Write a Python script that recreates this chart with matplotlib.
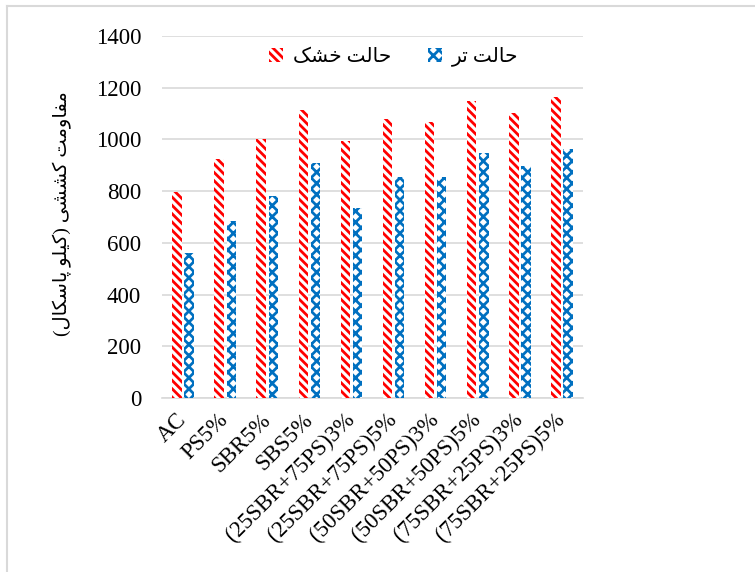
import numpy as np
import matplotlib
matplotlib.use('Agg')
import matplotlib.pyplot as plt
from matplotlib.lines import Line2D

# data
categories = ['AC', 'PS5%', 'SBR5%', 'SBS5%', '(25SBR+75PS)3%', '(25SBR+75PS)5%',
              '(50SBR+50PS)3%', '(50SBR+50PS)5%', '(75SBR+25PS)3%', '(75SBR+25PS)5%']
dry = [796, 925, 1001, 1115, 994, 1080, 1067, 1150, 1104, 1164]
wet = [562, 684, 781, 910, 735, 853, 853, 947, 897, 963]
yticks = [0, 200, 400, 600, 800, 1000, 1200, 1400]

# persian text, written in visual order with presentation forms (no shaping in mpl)
dry_label = '\uFB8F\uFEB8\uFEA7 \uFE96\uFEDF\uFE8E\uFEA3'   # حالت خشک
wet_label = '\uFEAE\uFE97 \uFE96\uFEDF\uFE8E\uFEA3'         # حالت تر
y_label = ('(\uFEDD\uFE8E\uFB91\uFEB3\uFE8E\uFB58 \uFEEE\uFEE0\uFBFF\uFB90) '
           '\uFBFD\uFEB8\uFEB8\uFB90 \uFE96\uFEE3\uFEED\uFE8E\uFED4\uFEE3')  # مقاومت کششی (کیلو پاسکال)

plt.rcParams['font.family'] = ['Liberation Serif', 'DejaVu Sans']
plt.rcParams['hatch.linewidth'] = 2.0

red = '#FF0000'
blue = '#0070C0'

fig = plt.figure(figsize=(7.55, 5.72), dpi=100)
ax = fig.add_axes([0.2146, 0.3042, 0.5576, 0.6328])

x = np.arange(len(categories))
w = 0.225
gap = 0.064
ax.bar(x - (w + gap) / 2, dry, width=w, facecolor='white', edgecolor=red,
       hatch='\\\\\\\\', linewidth=0, label=dry_label, zorder=3)
ax.bar(x + (w + gap) / 2, wet, width=w, facecolor='white', edgecolor=blue,
       hatch='xxx', linewidth=0, label=wet_label, zorder=3)

ax.set_xlim(-0.5, len(categories) - 0.5)
ax.set_ylim(0, 1400)
ax.set_yticks(yticks)
ax.set_yticklabels([str(v) for v in yticks], fontsize=16.5)
ax.set_xticks(x)
ax.set_xticklabels(categories, rotation=45, ha='right', va='center',
                   rotation_mode='anchor', fontsize=16.5)
ax.tick_params(axis='both', length=0)
ax.tick_params(axis='y', pad=15)
ax.tick_params(axis='x', pad=13.5)

ax.grid(axis='y', color='#d9d9d9', linewidth=1.2, zorder=0)
for s in ['top', 'right', 'left']:
    ax.spines[s].set_visible(False)
ax.spines['bottom'].set_color('#d9d9d9')
ax.spines['bottom'].set_linewidth(1.2)

ax.set_ylabel(y_label, fontsize=14)
ax.yaxis.set_label_coords(-0.215, 0.51)

leg = ax.legend(loc='upper center', bbox_to_anchor=(0.55, 1.02), ncol=2, frameon=False,
                fontsize=14.5, handlelength=0.7, handleheight=0.7, columnspacing=1.8,
                handletextpad=0.5)

# light frame of the chart area (top and left only, rest cropped)
fig.add_artist(Line2D([7 / 755, 1], [1 - 6 / 572, 1 - 6 / 572], color='#d9d9d9', lw=1.5))
fig.add_artist(Line2D([7 / 755, 7 / 755], [0, 1 - 6 / 572], color='#d9d9d9', lw=1.5))

fig.savefig('out.png', dpi=100)
